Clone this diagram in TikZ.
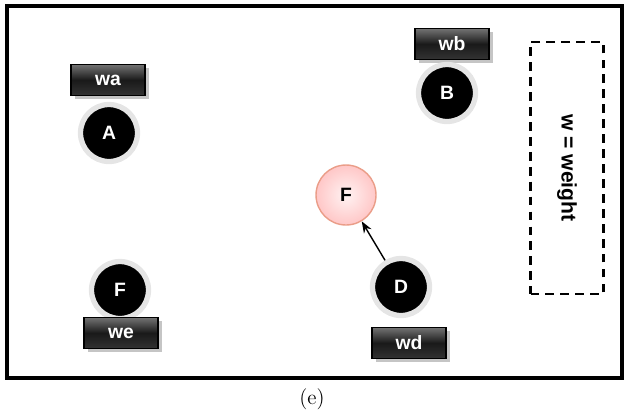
\documentclass[tikz,border=0pt]{standalone}
\usepackage{fontspec}
\setsansfont{Liberation Sans}
\usepackage{tikz}
\usetikzlibrary{positioning, arrows.meta, shadows}

\begin{document}
\begin{tikzpicture}[x=0.02cm, y=-0.02cm, >=Stealth,
    weightbox/.style={rectangle, draw=black, line width=0.6pt,
        top color=black!55, bottom color=black!80, middle color=black!90,
        minimum width=1.48cm, minimum height=0.62cm, text=white,
        font=\sffamily\bfseries\fontsize{11}{13}\selectfont,
        drop shadow={shadow xshift=2pt, shadow yshift=-2pt, fill=black!45}},
    blacknode/.style={circle, fill=black, draw=black!10, line width=3pt,
        minimum size=1.14cm, text=white,
        font=\sffamily\bfseries\fontsize{11}{13}\selectfont},
    pinknode/.style={circle, inner color=red!5, outer color=red!22,
        draw=red!40!brown!55, line width=0.8pt,
        minimum size=1.2cm, font=\sffamily\bfseries\fontsize{11}{13}\selectfont}]
    \useasboundingbox (0,0) rectangle (624,414);
    \draw[line width=1.8pt] (7,6) rectangle (622,378);

    \node[weightbox] (wa) at (108,80) {wa};
    \node[blacknode] (A) at (109,133) {A};
    \node[weightbox] (wb) at (452,44) {wb};
    \node[blacknode] (B) at (447,93) {B};
    \node[pinknode] (F) at (346,195) {F};
    \node[blacknode] (D) at (401,287) {D};
    \node[weightbox] (wd) at (409,343) {wd};
    \node[blacknode] (E) at (120,290) {F};
    \node[weightbox] (we) at (121,333) {we};

    \draw[->, thick] (D) -- (F);

    % legend
    \node[draw, dashed, line width=1.3pt, dash pattern=on 5pt off 3.5pt,
        minimum width=1.46cm, minimum height=5.04cm] (legend) at (567,168) {};
    \node[rotate=-90, font=\sffamily\bfseries\large] (wlabel) at (legend.center) {w = weight};

    \node[font=\large] (caption) at (312,399) {(e)};
\end{tikzpicture}
\end{document}
